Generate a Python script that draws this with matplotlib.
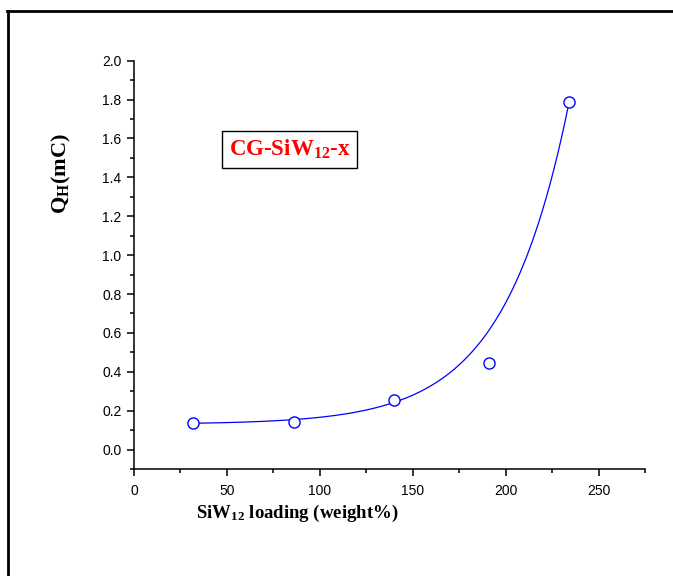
import numpy as np
import matplotlib
matplotlib.use('Agg')
import matplotlib.pyplot as plt
from matplotlib.ticker import MultipleLocator
from matplotlib.lines import Line2D

# data
loading = [32, 86, 140, 191, 234]
q_h = [0.134, 0.14, 0.255, 0.446, 1.788]

# exponential growth curve (y0 + A*exp(x/t)), parameters
fit_y0 = 0.13
fit_a = 0.00206
fit_t = 35.0

plt.rcParams['mathtext.fontset'] = 'custom'
plt.rcParams['mathtext.rm'] = 'Liberation Serif:bold'
plt.rcParams['mathtext.bf'] = 'Liberation Serif:bold'
plt.rcParams['mathtext.it'] = 'Liberation Serif:bold'

fig = plt.figure(figsize=(6.73, 5.76), dpi=100)
ax = fig.add_axes([0.1991, 0.1858, 0.7593, 0.7088])

xs = np.linspace(min(loading), max(loading), 300)
ax.plot(xs, fit_y0 + fit_a * np.exp(xs / fit_t), color='blue', lw=0.9, zorder=2)
ax.plot(loading, q_h, 'o', mfc='white', mec='blue', mew=1.0, ms=8, zorder=3)

ax.set_xlim(0, 275)
ax.set_ylim(-0.1, 2.0)
ax.xaxis.set_major_locator(MultipleLocator(50))
ax.xaxis.set_minor_locator(MultipleLocator(25))
ax.yaxis.set_major_locator(MultipleLocator(0.2))
ax.yaxis.set_minor_locator(MultipleLocator(0.1))
ax.yaxis.set_major_formatter(matplotlib.ticker.FormatStrFormatter('%.1f'))

for s in ['top', 'right']:
    ax.spines[s].set_visible(False)
for s in ['left', 'bottom']:
    ax.spines[s].set_linewidth(1.1)
ax.tick_params(which='major', direction='out', length=5, width=1.1, labelsize=10)
ax.tick_params(axis='x', which='major', pad=6)
ax.tick_params(axis='y', which='major', pad=4)
ax.tick_params(which='minor', direction='out', length=2.8, width=1.1)
for lab in ax.get_xticklabels() + ax.get_yticklabels():
    lab.set_family('Liberation Sans')

fig.text(0.441, 0.108, r'SiW$_{12}$ loading (weight%)', ha='center', va='center',
         fontsize=13.5, fontweight='bold', family='Liberation Serif')
fig.text(0.092, 0.698, r'Q$_{\mathrm{H}}$(mC)', rotation=90, ha='center', va='center',
         fontsize=16, fontweight='bold', family='Liberation Serif')

ax.text(0.304, 0.782, r'CG-SiW$_{12}$-x', transform=ax.transAxes, ha='center', va='center',
        fontsize=16.5, fontweight='bold', family='Liberation Serif', color='red',
        bbox=dict(boxstyle='square,pad=0.3', fc='white', ec='black', lw=1.0))

# outer frame
fig.add_artist(Line2D([7 / 673, 1.0], [1 - 10.5 / 576] * 2, color='black', lw=2))
fig.add_artist(Line2D([7.5 / 673] * 2, [0.0, 1 - 10.5 / 576], color='black', lw=2))

fig.savefig('out.png', dpi=100)
